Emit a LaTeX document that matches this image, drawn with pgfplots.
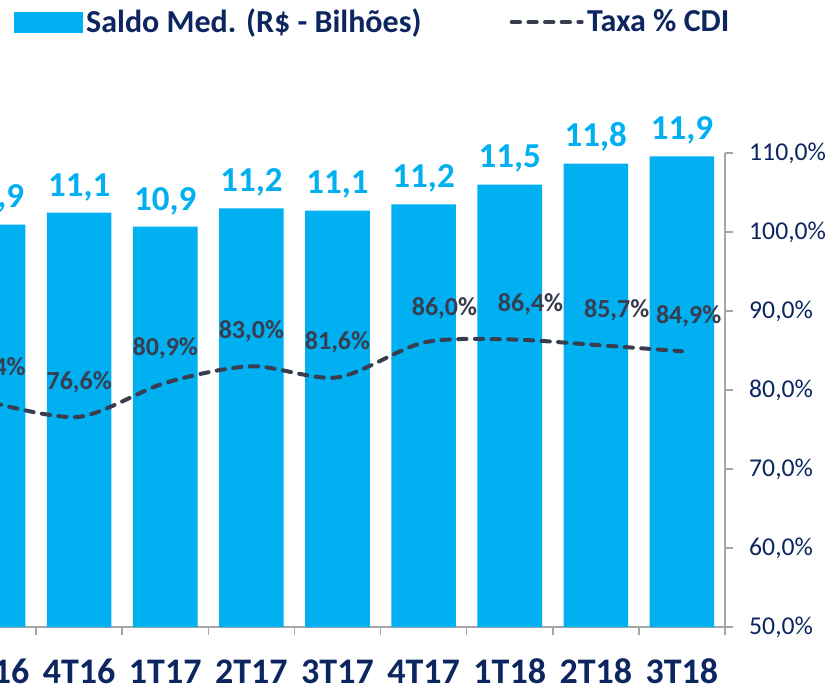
\documentclass[border=0pt]{standalone}
\usepackage{pgfplots}
\usepackage{pgfplotstable}
\pgfplotsset{compat=1.18}
\usepackage{fontspec}
\setmainfont{Carlito}
\pgfkeys{/pgf/number format/assume math mode=true}

\definecolor{barcyan}{HTML}{00B0F0}
\definecolor{navy}{HTML}{0D2660}
\definecolor{linegray}{HTML}{383D4F}
\definecolor{axisgray}{HTML}{A6A6A6}

% saldo medio (R$ bi) e taxa % CDI por trimestre
\pgfplotstableread{
x saldo taxa
0 10.93 78.4
1 11.10 76.6
2 10.90 80.9
3 11.16 83.0
4 11.13 81.6
5 11.22 86.0
6 11.50 86.4
7 11.80 85.7
8 11.90 84.9
}\dados

\pgfplotsset{
  linelegend/.style={legend image code/.code={\draw[##1] (0pt,0pt) -- (42pt,0pt);}},
  barlegend/.style={legend image code/.code={\fill[barcyan] (0pt,-6pt) rectangle (41pt,6pt);}},
  taxalabel/.style={draw=none, forget plot, nodes near coords, point meta=y,
    nodes near coords={\pgfmathprintnumber[fixed,fixed zerofill,precision=1,use comma]{\pgfplotspointmeta}\%},
    nodes near coords style={font=\fontsize{15.6}{18}\selectfont\bfseries, text=linegray, anchor=base, yshift=16.5pt}},
}

\begin{document}
\begin{tikzpicture}
\path[use as bounding box, clip] (30pt,-36pt) rectangle (530.4pt,376.2pt);
\begin{axis}[
  scale only axis, width=465pt, height=284.4pt,
  xmin=-0.5, xmax=8.5, ymin=5.2, ymax=11.95,
  clip=false,
  axis y line=none, axis x line*=bottom,
  x axis line style={axisgray, line width=0.9pt, -},
  xtick={0,...,8},
  xticklabels={3T16,4T16,1T17,2T17,3T17,4T17,1T18,2T18,3T18},
  major x tick style={draw=none},
  minor xtick={-0.5,0.5,...,8.5},
  minor x tick style={axisgray, line width=0.9pt},
  minor tick length=5pt, tick align=outside,
  xticklabel style={font=\fontsize{21.6}{26}\selectfont\bfseries, text=navy, anchor=base, yshift=-29.8pt},
  ybar, bar width=0.75,
]
\addplot[ybar, fill=barcyan, draw=none, nodes near coords, point meta=y,
  nodes near coords={\pgfmathprintnumber[fixed,fixed zerofill,precision=1,use comma]{\pgfplotspointmeta}},
  nodes near coords style={font=\fontsize{21}{25}\selectfont\bfseries, text=barcyan, anchor=base, yshift=10pt}]
  table[x=x, y=saldo] {\dados};
\end{axis}
\begin{axis}[
  scale only axis, width=465pt, height=284.4pt,
  xmin=-0.5, xmax=8.5, ymin=50, ymax=110,
  clip=false,
  axis x line=none, axis y line*=right,
  y axis line style={axisgray, line width=0.9pt, -},
  ytick={50,60,...,110},
  yticklabel={\pgfmathprintnumber[fixed,fixed zerofill,precision=1,use comma]{\tick}\%},
  major y tick style={axisgray, line width=0.9pt},
  major tick length=5pt, tick align=outside,
  yticklabel style={font=\fontsize{15.4}{18}\selectfont, text=navy, anchor=west, xshift=6pt},
  legend columns=2,
  legend style={at={(0.082,1.276)}, anchor=west, draw=none, fill=none, inner sep=0pt,
    font=\fontsize{19.2}{23}\selectfont\bfseries, text=navy,
    /tikz/every even column/.append style={column sep=51pt}},
  legend cell align=left,
]
\addlegendimage{barlegend}
\addlegendentry{Saldo Med. (R\$ - Bilhões)}
\addplot[linegray, line width=2.4pt, line cap=round, dash pattern=on 5pt off 5pt, smooth, linelegend]
  table[x=x, y=taxa] {\dados};
\addlegendentry{Taxa \% CDI}
\addplot[taxalabel, restrict x to domain=0:4] table[x=x, y=taxa] {\dados};
\addplot[taxalabel, restrict x to domain=5:7, nodes near coords style={xshift=12.5pt}] table[x=x, y=taxa] {\dados};
\addplot[taxalabel, restrict x to domain=8:8, nodes near coords style={xshift=4pt}] table[x=x, y=taxa] {\dados};
\end{axis}
\end{tikzpicture}
\end{document}
